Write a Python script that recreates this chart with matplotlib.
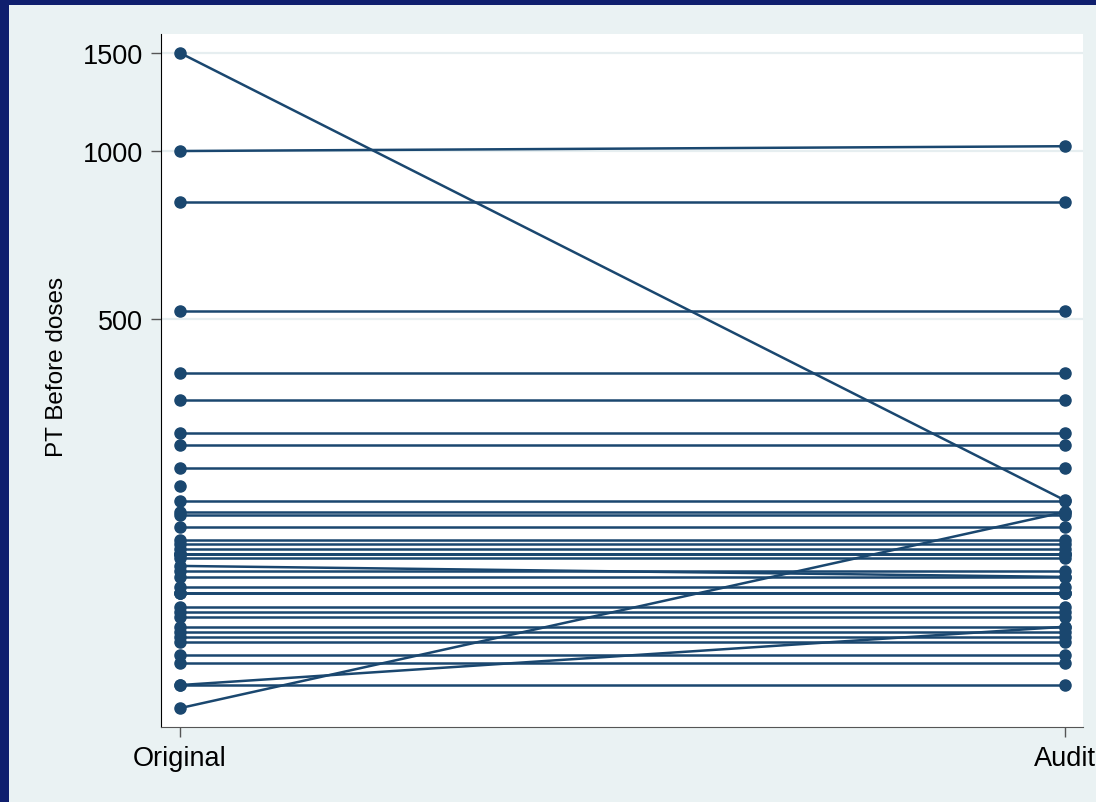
import numpy as np
import matplotlib
matplotlib.use("Agg")
import matplotlib.pyplot as plt
from matplotlib.patches import Rectangle

plt.rcParams['font.family'] = ['Liberation Sans', 'DejaVu Sans']

# PT before doses, original record vs audit (NaN = no audit value)
original = [1500, 1000, 811, 516, 399, 357, 312, 297, 270, 250,
            235, 225, 222, 211, 200, 197, 193, 189, 189, 189, 186,
            180, 176, 172, 165, 161, 161, 161, 152, 149, 146,
            140, 137, 134, 131.5, 124.6, 120.6, 110, 110, 100]
audit = [236, 1020, 811, 516, 399, 357, 312, 297, 270, np.nan,
         235, 225, 222, 211, 200, 197, 193, 189, 189, 189, 186,
         172, 176, 172, 165, 161, 161, 161, 152, 149, 146,
         140, 137, 134, 131.5, 124.6, 120.6, 110, 140, 225]
groups = ["Original", "Audit"]
yticks = [500, 1000, 1500]

navy = "#1a476f"
bg = "#eaf2f3"

fig = plt.figure(figsize=(10.96, 8.03), dpi=100)
fig.patch.set_facecolor("#0f1f6e")
# light graph region inside the dark frame
fig.add_artist(Rectangle((9 / 1096, 0), 1 - 9 / 1096, 1 - 6 / 803,
                         transform=fig.transFigure, facecolor=bg,
                         edgecolor="none", zorder=0))

ax = fig.add_axes([161 / 1096, 75 / 803, 922 / 1096, 693 / 803])
ax.set_facecolor("white")

for o, a in zip(original, audit):
    if np.isnan(a):
        ax.plot([0], [o], color=navy, marker="o", ms=8, lw=0)
    else:
        ax.plot([0, 1], [o, a], color=navy, lw=1.8, marker="o", ms=8,
                solid_capstyle="butt")

ax.set_yscale("log")
ax.set_ylim(92.5, 1622)
ax.set_xlim(-0.0215, 1.0203)
ax.set_yticks(yticks)
ax.set_yticklabels([str(t) for t in yticks])
ax.yaxis.set_minor_locator(matplotlib.ticker.NullLocator())
ax.set_xticks([0, 1])
ax.set_xticklabels(groups)

ax.grid(axis="y", color="#e6eef0", lw=1.6)
ax.set_axisbelow(True)
for side in ["top", "right"]:
    ax.spines[side].set_visible(False)
ax.spines["left"].set_color("black")
ax.spines["bottom"].set_color("#555555")
ax.tick_params(axis="both", direction="out", length=7, width=1,
               color="#555555", labelsize=19.5, pad=6)
ax.set_ylabel("PT Before doses", fontsize=17.5)
ax.yaxis.set_label_coords(-0.101, 0.521)

fig.savefig("out.png", dpi=100, facecolor=fig.get_facecolor())
